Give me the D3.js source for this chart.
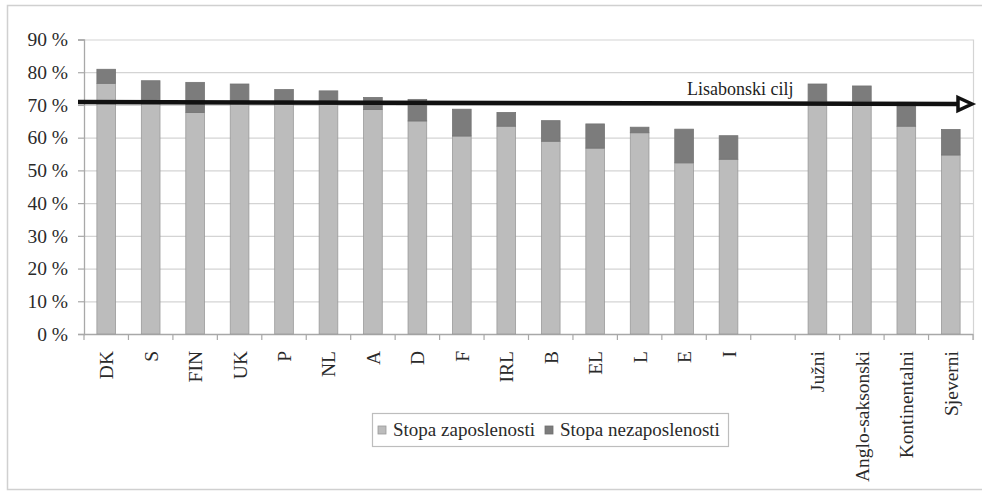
<!DOCTYPE html>
<html>
<head>
<meta charset="utf-8">
<script src="https://cdn.jsdelivr.net/npm/d3@7/dist/d3.min.js"></script>
<style>
  html, body { margin: 0; padding: 0; background: #fff; }
  svg { display: block; }
  svg text { font-family: "Liberation Serif", "Tinos", "DejaVu Serif", "Noto Serif", serif !important; fill: #2a2a2a; }
</style>
</head>
<body>
<svg id="chart" width="982" height="494"></svg>
<script>
// Countries and country groups (blank slot separates the two sets)
const countries = ["DK", "S", "FIN", "UK", "P", "NL", "A", "D", "F", "IRL", "B", "EL", "L", "E", "I"];
const groups = ["Južni", "Anglo-saksonski", "Kontinentalni", "Sjeverni"];

// Stopa zaposlenosti (%)
const employmentCountries = [76.6, 71.2, 67.7, 71.2, 71.2, 71.2, 68.6, 65.1, 60.5, 63.5, 58.9, 56.8, 61.5, 52.3, 53.4];
const employmentGroups = [71.2, 71.2, 63.5, 54.7];
// Stopa nezaposlenosti (%), stacked on top
const unemploymentCountries = [4.3, 6.2, 9.2, 5.2, 3.5, 3.1, 3.7, 6.6, 8.2, 4.2, 6.3, 7.4, 1.7, 10.3, 7.2];
const unemploymentGroups = [5.2, 4.6, 7.3, 7.8];

// Y axis ticks (%)
const yTicks = [0, 10, 20, 30, 40, 50, 60, 70, 80, 90];
// Lisbon target arrow, start and end level (%)
const targetLevels = [70.9, 70.3];
const targetLabel = "Lisabonski cilj";
const seriesNames = ["Stopa zaposlenosti", "Stopa nezaposlenosti"];
const seriesColors = ["#bcbcbc", "#7c7c7c"];

const GAP = "__gap__";
const slots = [...countries, GAP, ...groups];
const rows = [
  ...countries.map((c, i) => ({ key: c, emp: employmentCountries[i], unemp: unemploymentCountries[i] })),
  ...groups.map((g, i) => ({ key: g, emp: employmentGroups[i], unemp: unemploymentGroups[i] }))
];

const svg = d3.select("#chart");

// outer frame
svg.append("rect")
  .attr("x", 7.5).attr("y", 5.5).attr("width", 990).attr("height", 484)
  .attr("fill", "none").attr("stroke", "#d0d0d0").attr("stroke-width", 1.5);

const plot = { left: 84, right: 973, top: 39.5, bottom: 334 };

const x = d3.scaleBand()
  .domain(slots)
  .range([plot.left, plot.right])
  .paddingInner(0.58)
  .paddingOuter(0.29);

const y = d3.scaleLinear().domain([0, 90]).range([plot.bottom, plot.top]);

// gridlines
svg.append("g").selectAll("line").data(yTicks.filter(d => d > 0)).join("line")
  .attr("x1", plot.left).attr("x2", plot.right)
  .attr("y1", d => y(d) + 0.5).attr("y2", d => y(d) + 0.5)
  .attr("stroke", "#d4d4d4").attr("stroke-width", 1.2);
svg.append("line")
  .attr("x1", plot.right + 0.5).attr("x2", plot.right + 0.5)
  .attr("y1", y(90)).attr("y2", plot.bottom + 6)
  .attr("stroke", "#d4d4d4").attr("stroke-width", 1.2);

// y axis
const yAxis = d3.axisLeft(y).tickValues(yTicks).tickSize(6).tickPadding(10)
  .tickFormat(d => d + " %");
const gy = svg.append("g").attr("transform", `translate(${plot.left},0)`).call(yAxis)
  .attr("font-family", null);
gy.select(".domain").attr("stroke", "#a8a8a8").attr("stroke-width", 1.3);
gy.selectAll(".tick line").attr("stroke", "#a8a8a8").attr("stroke-width", 1.2);
gy.selectAll(".tick text").attr("font-size", 19.5);

// x axis baseline and category boundary ticks
svg.append("line")
  .attr("x1", plot.left).attr("x2", plot.right)
  .attr("y1", plot.bottom + 0.5).attr("y2", plot.bottom + 0.5)
  .attr("stroke", "#a8a8a8").attr("stroke-width", 1.3);
const step = x.step();
svg.append("g").selectAll("line").data(d3.range(slots.length + 1)).join("line")
  .attr("x1", i => plot.left + i * step).attr("x2", i => plot.left + i * step)
  .attr("y1", plot.bottom).attr("y2", plot.bottom + 6)
  .attr("stroke", "#a8a8a8").attr("stroke-width", 1.2);

// category labels, rotated
svg.append("g").selectAll("text").data(slots.filter(s => s !== GAP)).join("text")
  .attr("transform", d => `translate(${x(d) + x.bandwidth() / 2 + 7},${plot.bottom + 17}) rotate(-90)`)
  .attr("text-anchor", "end")
  .attr("font-size", 19.5)
  .text(d => d);

// stacked bars
const bars = svg.append("g");
bars.selectAll("rect.emp").data(rows).join("rect")
  .attr("class", "emp")
  .attr("x", d => x(d.key)).attr("width", x.bandwidth())
  .attr("y", d => y(d.emp)).attr("height", d => y(0) - y(d.emp))
  .attr("fill", seriesColors[0]).attr("stroke", "#9a9a9a").attr("stroke-width", 0.8);
bars.selectAll("rect.unemp").data(rows).join("rect")
  .attr("class", "unemp")
  .attr("x", d => x(d.key)).attr("width", x.bandwidth())
  .attr("y", d => y(d.emp + d.unemp)).attr("height", d => y(d.emp) - y(d.emp + d.unemp))
  .attr("fill", seriesColors[1]).attr("stroke", "#747474").attr("stroke-width", 0.8);

// Lisbon target arrow
const ax0 = 78, ax1 = 958, tip = 972;
const ya = y(targetLevels[0]), yb = y(targetLevels[1]);
svg.append("line")
  .attr("x1", ax0).attr("y1", ya).attr("x2", ax1).attr("y2", yb)
  .attr("stroke", "#111").attr("stroke-width", 4.5);
svg.append("path")
  .attr("d", `M${ax1},${yb - 6.5} L${tip},${yb} L${ax1},${yb + 6.5} Z`)
  .attr("fill", "#fff").attr("stroke", "#111").attr("stroke-width", 3.5)
  .attr("stroke-linejoin", "miter");
svg.append("text")
  .attr("x", 687).attr("y", 95)
  .attr("font-size", 18).style("fill", "#1e1e1e")
  .text(targetLabel);

// legend
const lg = svg.append("g");
lg.append("rect")
  .attr("x", 372.5).attr("y", 413.5).attr("width", 356).attr("height", 33)
  .attr("fill", "#fff").attr("stroke", "#bdbdbd").attr("stroke-width", 1.2);
const legendX = [378, 545];
seriesNames.forEach((name, i) => {
  lg.append("rect")
    .attr("x", legendX[i]).attr("y", 426).attr("width", 8).attr("height", 8)
    .attr("fill", seriesColors[i]).attr("stroke", i ? "#6f6f6f" : "#999").attr("stroke-width", 0.8);
  lg.append("text")
    .attr("x", legendX[i] + 15).attr("y", 436)
    .attr("font-size", 19)
    .text(name);
});
</script>
</body>
</html>
